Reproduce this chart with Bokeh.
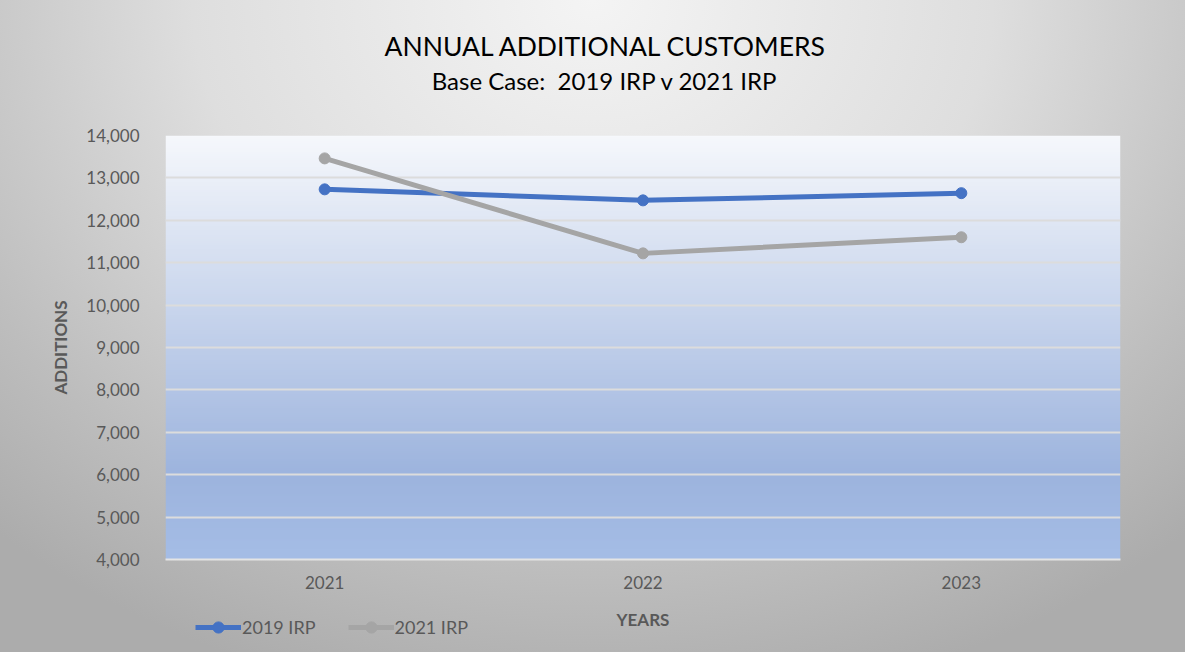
import numpy as np
from bokeh.plotting import figure
from bokeh.layouts import column
from bokeh.models import (Range1d, FixedTicker, NumeralTickFormatter,
                          Legend, LegendItem, Label)
from bokeh.embed import file_html
from bokeh.resources import INLINE

# ---- data ----
years = ["2021", "2022", "2023"]
irp_2019 = [12730, 12470, 12640]
irp_2021 = [13460, 11220, 11600]
y_ticks = [4000, 5000, 6000, 7000, 8000, 9000, 10000, 11000, 12000, 13000, 14000]
series_names = ["2019 IRP", "2021 IRP"]
series_colors = ["#4472c4", "#a5a5a5"]
title_text = "ANNUAL ADDITIONAL CUSTOMERS"
subtitle_text = "Base Case:\u00a0 2019 IRP v 2021 IRP"

xs = [i + 0.5 for i in range(len(years))]
FONT = "Lato"
GRAY = "#595959"
W = 1185
H0, H1, H2 = 125, 475, 52


def bare(fig):
    fig.border_fill_color = None
    fig.background_fill_color = None
    fig.outline_line_color = None


# ---------------- title strip ----------------
p0 = figure(width=W, height=H0, output_backend="svg", toolbar_location=None,
            x_range=Range1d(0, len(years)), y_range=Range1d(0, H0),
            x_axis_type=None, y_axis_type=None, min_border=0)
bare(p0)
p0.grid.visible = False
p0.add_layout(Label(x=len(years) / 2, y=H0 - 45, x_offset=-37, text=title_text,
                    text_align="center", text_baseline="middle",
                    text_font=FONT, text_font_size="26.5px", text_color="#000000"))
p0.add_layout(Label(x=len(years) / 2, y=H0 - 80, x_offset=-38, text=subtitle_text,
                    text_align="center", text_baseline="middle",
                    text_font=FONT, text_font_size="24px", text_color="#000000"))

# ---------------- main plot ----------------
p = figure(width=W, height=H1, output_backend="svg", toolbar_location=None,
           x_range=Range1d(0, len(years)), y_range=Range1d(y_ticks[0], y_ticks[-1]),
           min_border_left=165, min_border_right=65, min_border_top=10,
           min_border_bottom=41)
bare(p)

# plot-area vertical gradient
n = 200
t = np.linspace(0, 1, n)  # 0 bottom -> 1 top
top = np.array([246, 248, 252])
mid = np.array([157, 180, 222])
bot = np.array([165, 189, 230])
cols = np.zeros((n, 3))
for i, v in enumerate(t):
    if v >= 0.2:
        f = (v - 0.2) / 0.8
        cols[i] = mid + (top - mid) * f
    else:
        f = v / 0.2
        cols[i] = bot + (mid - bot) * f
img = np.zeros((n, 1), dtype=np.uint32)
view = img.view(dtype=np.uint8).reshape((n, 1, 4))
view[:, 0, 0] = cols[:, 0]
view[:, 0, 1] = cols[:, 1]
view[:, 0, 2] = cols[:, 2]
view[:, 0, 3] = 255
p.image_rgba(image=[img], x=0, y=y_ticks[0], dw=len(years), dh=y_ticks[-1] - y_ticks[0], level="image")

# grid
p.xgrid.visible = False
p.ygrid.ticker = FixedTicker(ticks=y_ticks)
p.ygrid.grid_line_color = "#dcdcdc"
p.ygrid.grid_line_width = 2
p.ygrid.level = "underlay"

# axes
p.yaxis.ticker = FixedTicker(ticks=y_ticks)
p.yaxis.formatter = NumeralTickFormatter(format="0,0")
p.yaxis.axis_line_color = None
p.yaxis.major_tick_line_color = None
p.yaxis.minor_tick_line_color = None
p.yaxis.major_label_text_font = FONT
p.yaxis.major_label_text_font_size = "17px"
p.yaxis.major_label_text_color = GRAY
p.yaxis.major_label_standoff = 20
p.yaxis.axis_label = "ADDITIONS"
p.yaxis.axis_label_text_font = FONT
p.yaxis.axis_label_text_font_size = "17px"
p.yaxis.axis_label_text_font_style = "bold"
p.yaxis.axis_label_text_color = GRAY
p.yaxis.axis_label_standoff = 12

p.xaxis.ticker = FixedTicker(ticks=xs)
p.xaxis.major_label_overrides = {x: y for x, y in zip(xs, years)}
p.xaxis.axis_line_color = "#e4e4e4"
p.xaxis.axis_line_width = 2
p.xaxis.major_tick_line_color = None
p.xaxis.minor_tick_line_color = None
p.xaxis.major_label_text_font = FONT
p.xaxis.major_label_text_font_size = "17px"
p.xaxis.major_label_text_color = GRAY
p.xaxis.major_label_standoff = 10

# series
for vals, col in zip([irp_2019, irp_2021], series_colors):
    p.line(xs, vals, line_color=col, line_width=5)
    p.scatter(xs, vals, size=11, fill_color=col, line_color=col)

# ---------------- bottom strip: x-axis title and legend ----------------
p2 = figure(width=W, height=H2, output_backend="svg", toolbar_location=None,
            x_range=Range1d(0, len(years)), y_range=Range1d(0, H2),
            x_axis_type=None, y_axis_type=None, min_border=0)
bare(p2)
p2.grid.visible = False

items = []
for name, vals, col in zip(series_names, [irp_2019, irp_2021], series_colors):
    r1 = p2.line(xs, vals, line_color=col, line_width=5)
    r2 = p2.scatter(xs, vals, size=11, fill_color=col, line_color=col)
    items.append(LegendItem(label=name, renderers=[r1, r2]))
legend = Legend(items=items, orientation="horizontal", location=(30, 11),
                background_fill_alpha=0, border_line_alpha=0,
                label_text_font=FONT, label_text_font_size="18px",
                label_text_color=GRAY, glyph_width=46, glyph_height=28,
                label_standoff=1, spacing=32, padding=0, margin=0)
p2.add_layout(legend, "center")
p2.add_layout(Label(x=len(years) / 2, y=H2 - 19, text="YEARS",
                    text_align="center", text_baseline="middle",
                    text_font=FONT, text_font_size="17px", text_font_style="bold",
                    text_color=GRAY))

layout = column(p0, p, p2, spacing=0,
                styles={"background": "radial-gradient(ellipse 75% 110% at 50% 0%, #f4f4f4 0%, #dedede 45%, #bdbdbd 80%, #acacac 100%)"})

open("out.html", "w").write(file_html(layout, INLINE))
